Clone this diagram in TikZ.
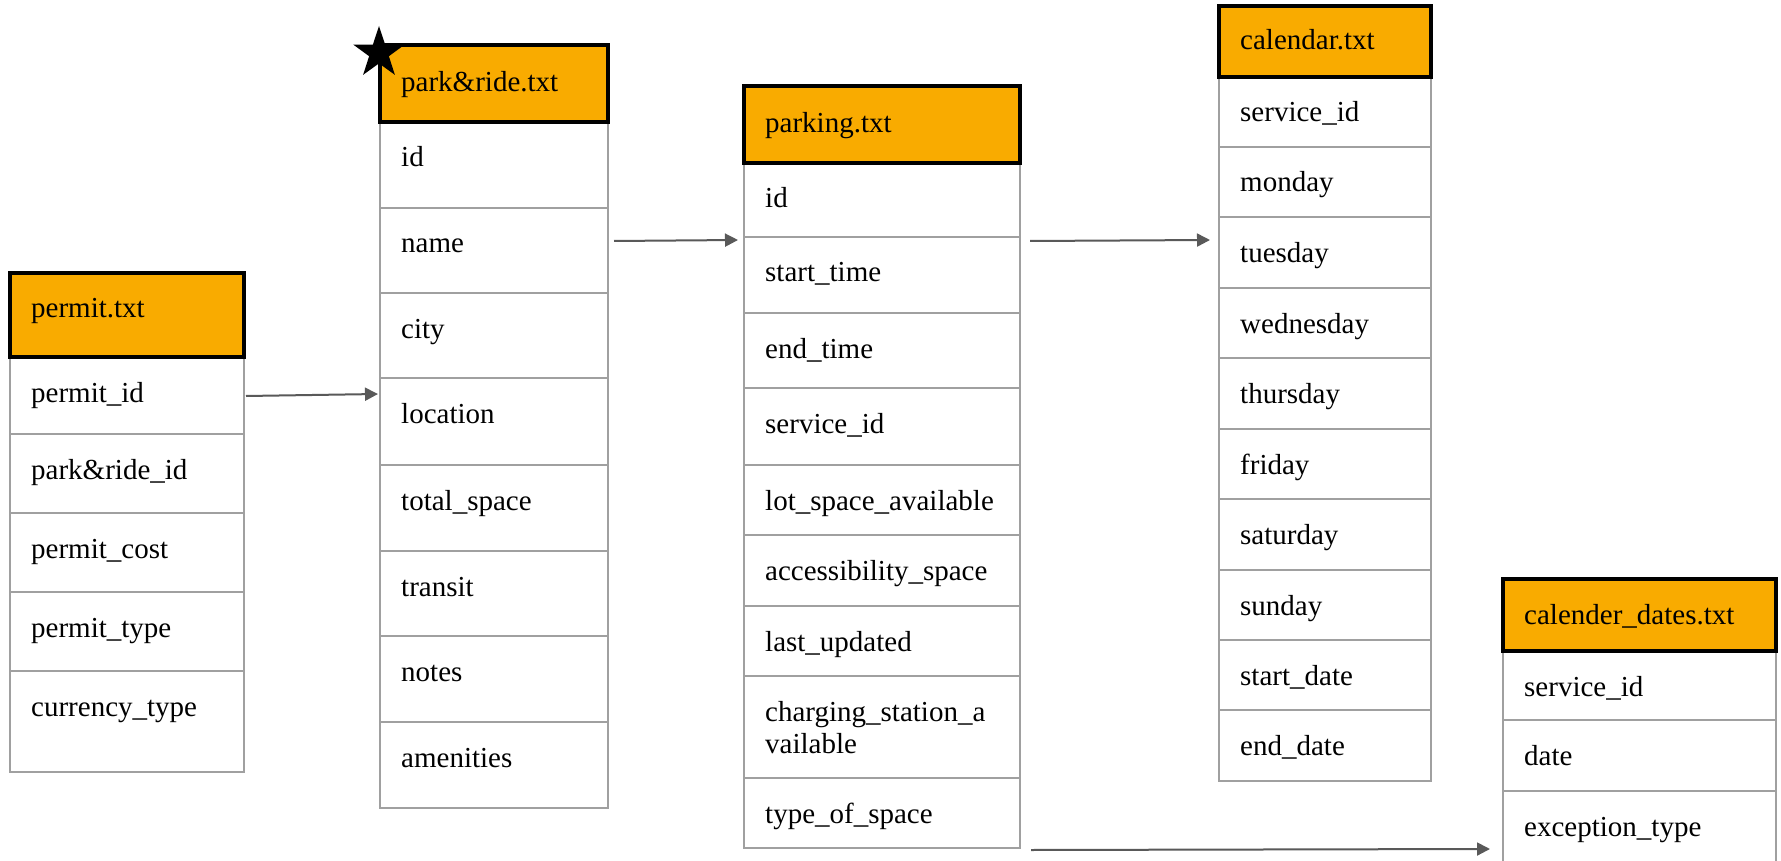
\documentclass[tikz,border=0pt]{standalone}
\usepackage{fontspec}
\setmainfont{Liberation Serif}
\usetikzlibrary{arrows.meta,shapes.geometric}
\definecolor{hdr}{HTML}{F9AB00}
\definecolor{gridc}{HTML}{A0A0A0}
\definecolor{arr}{HTML}{595959}
\newcommand\mkcell[8][45]{%
  \node[#2, minimum width=#7, minimum height={#6-#5}] (#3) at ({#4+#7/2},{(#5+#6)/2}) {};
  \node[celltext] (#3t) at ([shift={(21,#1)}]#3.north west) {#8};
}
\begin{document}
\begin{tikzpicture}[x=1pt,y=-1pt,
  cellbox/.style={draw=gridc, line width=2pt, fill=white, inner sep=0pt, outer sep=0pt},
  headbox/.style={draw=black, line width=3.5pt, fill=hdr, inner sep=0pt, outer sep=0pt},
  celltext/.style={anchor=base west, inner sep=0pt, font=\fontsize{29}{32}\selectfont, align=left},
  conn/.style={draw=arr, line width=2pt, -{Triangle[length=13pt,width=13pt]}}]
\useasboundingbox[fill=white] (0,0) rectangle (1781,861);
% permit.txt
\mkcell{cellbox}{pm1}{10}{357}{434}{234}{permit\_id}
\mkcell{cellbox}{pm2}{10}{434}{513}{234}{park\&ride\_id}
\mkcell{cellbox}{pm3}{10}{513}{592}{234}{permit\_cost}
\mkcell{cellbox}{pm4}{10}{592}{671}{234}{permit\_type}
\mkcell{cellbox}{pm5}{10}{671}{772}{234}{currency\_type}
\mkcell[44]{headbox}{pm}{10}{273}{357}{234}{permit.txt}
% park&ride.txt
\mkcell{cellbox}{pr1}{380}{122}{208}{228}{id}
\mkcell{cellbox}{pr2}{380}{208}{293}{228}{name}
\mkcell{cellbox}{pr3}{380}{293}{378}{228}{city}
\mkcell{cellbox}{pr4}{380}{378}{465}{228}{location}
\mkcell{cellbox}{pr5}{380}{465}{551}{228}{total\_space}
\mkcell{cellbox}{pr6}{380}{551}{636}{228}{transit}
\mkcell{cellbox}{pr7}{380}{636}{722}{228}{notes}
\mkcell{cellbox}{pr8}{380}{722}{808}{228}{amenities}
\mkcell[47]{headbox}{pr}{380}{45}{122}{228}{park\&ride.txt}
% parking.txt
\mkcell{cellbox}{pk1}{744}{163}{237}{276}{id}
\mkcell{cellbox}{pk2}{744}{237}{313}{276}{start\_time}
\mkcell{cellbox}{pk3}{744}{313}{388}{276}{end\_time}
\mkcell{cellbox}{pk4}{744}{388}{465}{276}{service\_id}
\mkcell{cellbox}{pk5}{744}{465}{535}{276}{lot\_space\_available}
\mkcell{cellbox}{pk6}{744}{535}{606}{276}{accessibility\_space}
\mkcell{cellbox}{pk7}{744}{606}{676}{276}{last\_updated}
\mkcell[77]{cellbox}{pk8}{744}{676}{778}{276}{charging\_station\_a\\vailable}
\mkcell{cellbox}{pk9}{744}{778}{848}{276}{type\_of\_space}
\mkcell[47]{headbox}{pk}{744}{86}{163}{276}{parking.txt}
% calendar.txt
\mkcell{cellbox}{ca1}{1219}{77}{147}{212}{service\_id}
\mkcell{cellbox}{ca2}{1219}{147}{217}{212}{monday}
\mkcell{cellbox}{ca3}{1219}{217}{288}{212}{tuesday}
\mkcell{cellbox}{ca4}{1219}{288}{358}{212}{wednesday}
\mkcell{cellbox}{ca5}{1219}{358}{429}{212}{thursday}
\mkcell{cellbox}{ca6}{1219}{429}{499}{212}{friday}
\mkcell{cellbox}{ca7}{1219}{499}{570}{212}{saturday}
\mkcell{cellbox}{ca8}{1219}{570}{640}{212}{sunday}
\mkcell{cellbox}{ca9}{1219}{640}{710}{212}{start\_date}
\mkcell{cellbox}{ca10}{1219}{710}{781}{212}{end\_date}
\mkcell[44]{headbox}{ca}{1219}{6}{77}{212}{calendar.txt}
% calender_dates.txt
\mkcell{cellbox}{cd1}{1503}{651}{720}{273}{service\_id}
\mkcell{cellbox}{cd2}{1503}{720}{791}{273}{date}
\mkcell{cellbox}{cd3}{1503}{791}{880}{273}{exception\_type}
\mkcell[45]{headbox}{cd}{1503}{579}{651}{273}{calender\_dates.txt}
% star
\node[star, star points=5, star point ratio=2.6, fill=black, minimum size=54pt, inner sep=0pt] (star) at (379,53) {};
% connectors
\draw[conn] ([shift={(2,39)}]pm1.north east) -- ([shift={(-2,16)}]pr4.north west);
\draw[conn] ([shift={(6,33)}]pr2.north east) -- ([shift={(-6,3)}]pk2.north west);
\draw[conn] ([shift={(10,4)}]pk2.north east) -- ([shift={(-9,23)}]ca3.north west);
\draw[conn] ([shift={(11,2)}]pk9.south east) -- ([shift={(-13,58)}]cd3.north west);
\end{tikzpicture}
\end{document}
